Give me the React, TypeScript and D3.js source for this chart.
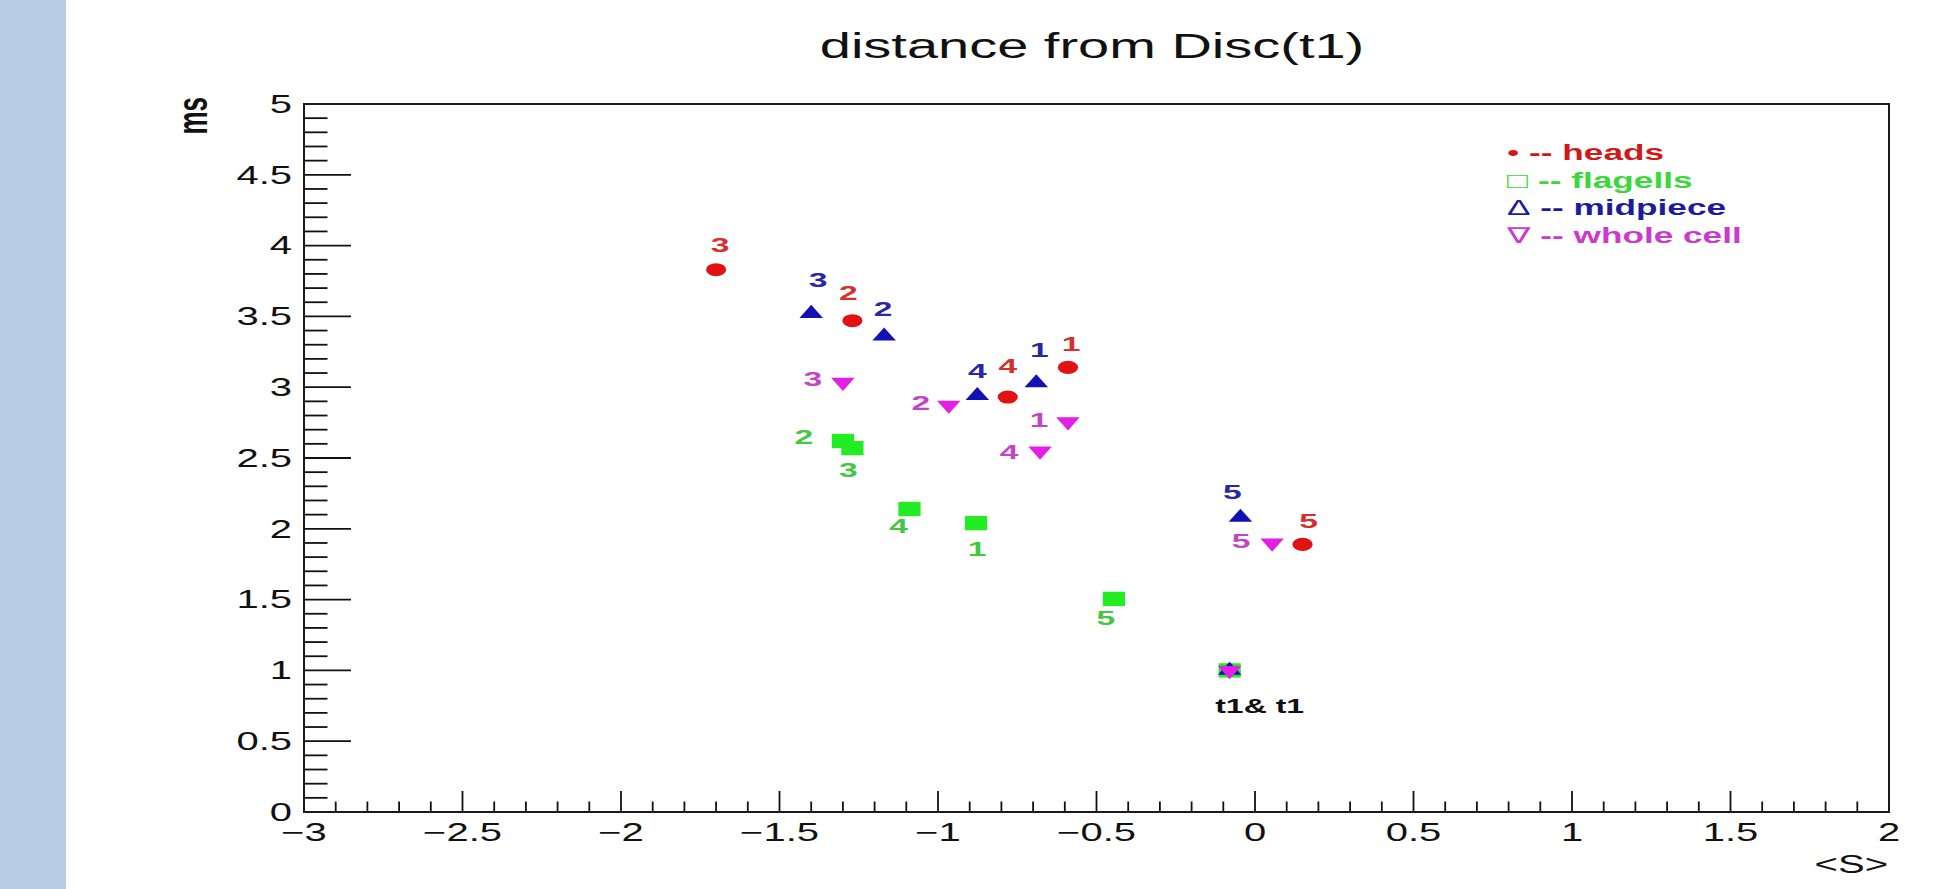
import React, { useEffect, useRef } from 'react';
import * as d3 from 'd3';

// <S> and ms values for each cell part; the 6th point is the reference t1 at (−0.08, 1)
const headsS = [-0.59, -1.27, -1.70, -0.78, 0.15, -0.08];
const headsMs = [3.14, 3.47, 3.83, 2.93, 1.89, 1.0];
const flagellsS = [-0.88, -1.30, -1.27, -1.09, -0.445, -0.08];
const flagellsMs = [2.04, 2.62, 2.57, 2.14, 1.505, 1.0];
const midpieceS = [-0.69, -1.17, -1.40, -0.876, -0.046, -0.08];
const midpieceMs = [3.03, 3.36, 3.52, 2.94, 2.08, 1.0];
const wholeS = [-0.59, -0.966, -1.30, -0.678, 0.054, -0.08];
const wholeMs = [2.756, 2.874, 3.035, 2.55, 1.90, 1.0];

const pointNames = ['1', '2', '3', '4', '5'];
const originName = 't1& t1';

const xMajorTicks = [-3, -2.5, -2, -1.5, -1, -0.5, 0, 0.5, 1, 1.5, 2];
const yMajorTicks = [0, 0.5, 1, 1.5, 2, 2.5, 3, 3.5, 4, 4.5, 5];

const legendSymbols = ['•', '□', 'Δ', '∇'];
const legendNames = ['heads', 'flagells', 'midpiece', 'whole cell'];

// label placement next to each marker (px)
const headsLabelPos = [[3, -24], [-4, -28], [4, -25], [0, -31], [6, -24]];
const flagellsLabelPos = [[1, 26], [-39, -4], [-4, 22], [-11, 17], [-8, 19]];
const midpieceLabelPos = [[3, -33], [-1, -28], [7, -34], [0, -25], [-8, -26]];
const wholeLabelPos = [[-29, -2], [-28, -2], [-30, -4], [-31, 1], [-31, -2]];

const W = 1952;
const H = 889;
const frame = { left: 304, right: 1889, top: 104, bottom: 812 };
const SX = 1.6; // picture is stretched sideways
const FONT = "'Liberation Sans', Arial, 'DejaVu Sans', sans-serif";

const App = () => {
  const ref = useRef<SVGSVGElement>(null);

  useEffect(() => {
    const svg = d3.select(ref.current);
    svg.selectAll('*').remove();

    svg.append('rect').attr('width', W).attr('height', H).attr('fill', '#ffffff');
    svg.append('rect').attr('width', 66).attr('height', H).attr('fill', '#b8cce4');

    const x = d3.scaleLinear().domain([-3, 2]).range([frame.left, frame.right]);
    const y = d3.scaleLinear().domain([0, 5]).range([frame.bottom, frame.top]);

    const text = (g, px, py, s, size, opts: any = {}) => {
      const t = g
        .append('text')
        .attr('transform', `translate(${px},${py}) scale(${SX},1)${opts.rotate ? ' rotate(-90)' : ''}`)
        .attr('font-family', FONT)
        .attr('font-size', size)
        .attr('font-weight', opts.bold ? 'bold' : 'normal')
        .attr('fill', opts.fill || '#111')
        .attr('text-anchor', opts.anchor || 'middle')
        .text(s);
      if (opts.dy) t.attr('dy', opts.dy);
      return t;
    };

    // title
    text(svg, 1092, 58, 'distance from Disc(t1)', 35);

    // ticks, 0.1 steps, major every 0.5
    const axisG = svg.append('g').attr('stroke', '#111').attr('stroke-width', 1.8);
    d3.range(0, 51).forEach(i => {
      const v = -3 + i * 0.1;
      const len = i % 5 === 0 ? 21 : 10.5;
      axisG.append('line')
        .attr('x1', x(v)).attr('x2', x(v))
        .attr('y1', frame.bottom).attr('y2', frame.bottom - len);
    });
    d3.range(0, 51).forEach(i => {
      const v = i * 0.1;
      const len = i % 5 === 0 ? 47 : 23.5;
      axisG.append('line')
        .attr('x1', frame.left).attr('x2', frame.left + len)
        .attr('y1', y(v)).attr('y2', y(v));
    });

    svg.append('rect')
      .attr('x', frame.left).attr('y', frame.top)
      .attr('width', frame.right - frame.left).attr('height', frame.bottom - frame.top)
      .attr('fill', 'none').attr('stroke', '#1a1a1a').attr('stroke-width', 2);

    const fmt = d3.format('');
    xMajorTicks.forEach(v => text(svg, x(v), 841, fmt(v), 25));
    yMajorTicks.forEach(v => text(svg, frame.left - 12, y(v), fmt(v), 25, { anchor: 'end', dy: '0.35em' }));

    text(svg, 1888, 873, '<S>', 25, { anchor: 'end' });
    text(svg, 207, 97, 'ms', 26, { anchor: 'end', bold: true, rotate: true });

    // markers
    const series = [
      { xs: headsS, ys: headsMs, pos: headsLabelPos, type: d3.symbolCircle, size: 133, rot: 0, fill: '#e01212', label: '#d43030' },
      { xs: flagellsS, ys: flagellsMs, pos: flagellsLabelPos, type: d3.symbolSquare, size: 205, rot: 0, fill: '#22ec22', label: '#44c844' },
      { xs: midpieceS, ys: midpieceMs, pos: midpieceLabelPos, type: d3.symbolTriangle, size: 100, rot: 0, fill: '#1212b4', label: '#2828a4' },
      { xs: wholeS, ys: wholeMs, pos: wholeLabelPos, type: d3.symbolTriangle, size: 100, rot: 180, fill: '#e41ee4', label: '#c444c8' },
    ];
    const SXM = 1.55;

    series.forEach(s => {
      const path = d3.symbol().type(s.type).size(s.size)();
      s.xs.forEach((v, i) => {
        svg.append('path')
          .attr('d', path)
          .attr('transform', `translate(${x(v)},${y(s.ys[i])}) scale(${SXM},1) rotate(${s.rot})`)
          .attr('fill', s.fill);
      });
    });

    series.forEach(s => {
      pointNames.forEach((name, i) => {
        const [dx, dy] = s.pos[i];
        text(svg, x(s.xs[i]) + dx, y(s.ys[i]) + dy, name, 21, { bold: true, fill: s.label, dy: '0.35em' });
      });
    });

    text(svg, x(headsS[5]) + 30, y(headsMs[5]) + 36, originName, 20, { bold: true, fill: '#111', dy: '0.35em' });

    // legend
    const legendColors = ['#d01818', '#3ad83a', '#1c1c9c', '#cc3acc'];
    legendNames.forEach((name, i) => {
      const t = svg.append('text')
        .attr('transform', `translate(1507,${160 + i * 27.7}) scale(${SX},1)`)
        .attr('font-family', FONT)
        .attr('font-size', 22)
        .attr('fill', legendColors[i]);
      t.append('tspan').attr('font-weight', 'normal').text(legendSymbols[i]);
      t.append('tspan').attr('font-weight', 'bold').text(' -- ' + name);
    });
  }, []);

  return (
    <svg
      ref={ref}
      width={W}
      height={H}
      style={{ position: 'absolute', left: 0, top: 0, display: 'block' }}
    ></svg>
  );
};

export default App;
